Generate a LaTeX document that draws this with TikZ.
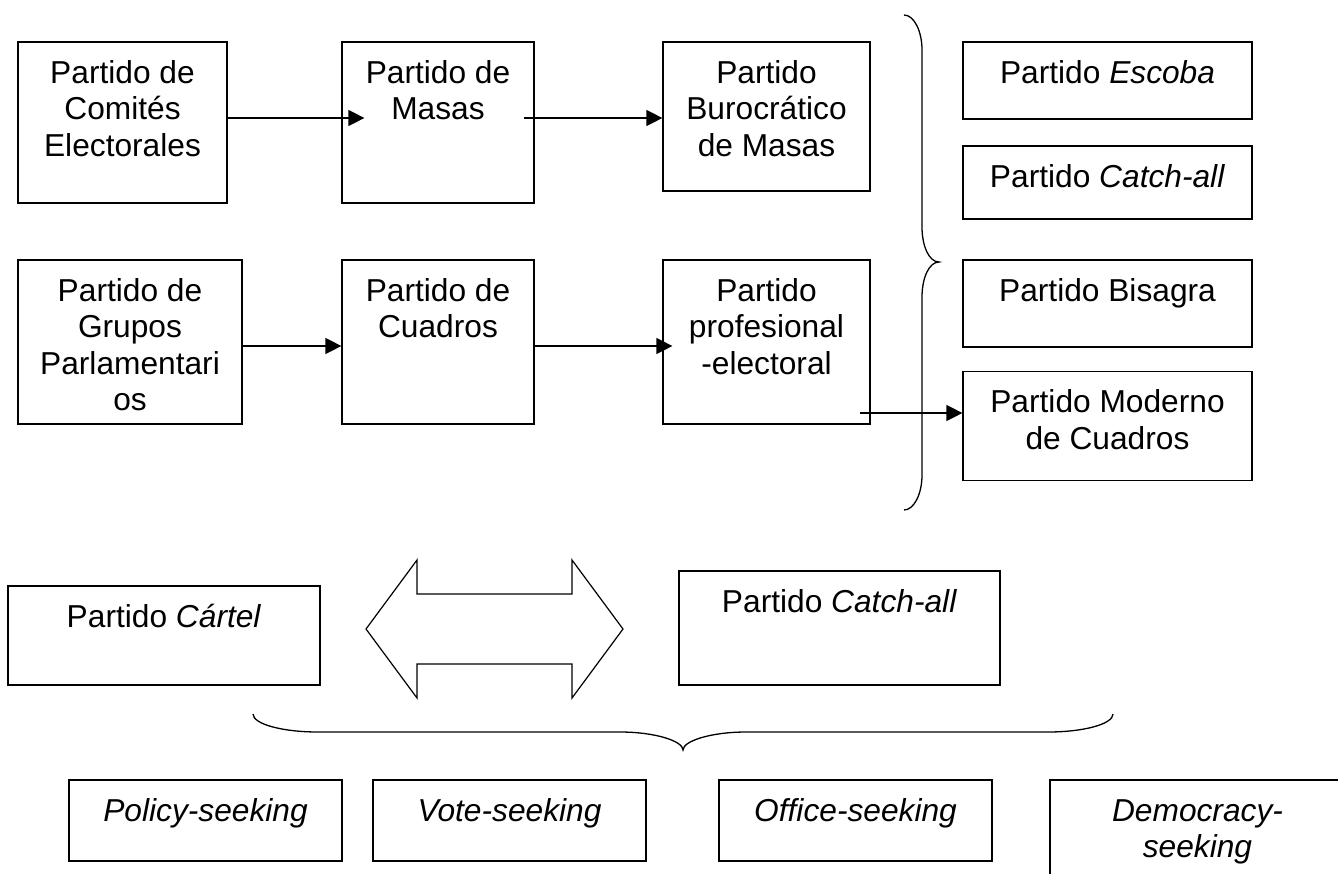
\documentclass[tikz,border=0pt]{standalone}
\usepackage{fontspec}
\setmainfont{Liberation Sans}
\usetikzlibrary{arrows.meta}
\newcommand{\celda}[3]{\parbox[t][#2][t]{#1}{\centering\vspace*{12pt}\rule{0pt}{29pt}#3}}

\begin{document}
\begin{tikzpicture}[
    x=1pt, y=-1pt,
    >={Triangle[length=16pt,width=16pt]},
    caja/.style={draw, line width=1.2pt, inner sep=0pt, font=\fontsize{31.7}{36.5}\selectfont},
    flecha/.style={->, line width=1.2pt},
    llave/.style={line width=1.3pt}
]
\useasboundingbox (0,0) rectangle (1338,873);
% evolucion de los partidos
\node[caja] (A) at (122.5,122.5) {\celda{209pt}{161pt}{Partido de\\Comités\\Electorales}};
\node[caja] (B) at (438,122.5) {\celda{192pt}{161pt}{Partido de\\Masas}};
\node[caja] (C) at (766.5,116.5) {\celda{207pt}{149pt}{Partido\\Burocrático\\de Masas}};
\node[caja] (D) at (130,342) {\celda{224pt}{164pt}{Partido de\\Grupos\\Parlamentari\\os}};
\node[caja] (E) at (438,342) {\celda{192pt}{164pt}{Partido de\\Cuadros}};
\node[caja] (F) at (766.5,342) {\celda{207pt}{164pt}{Partido\\profesional\\-electoral}};
\draw[flecha] ([yshift=4.5pt]A.east) -- ([xshift=23pt,yshift=4.5pt]B.west);
\draw[flecha] ([xshift=-11pt,yshift=4.5pt]B.east) -- ([yshift=-1.5pt]C.west);
\draw[flecha] ([yshift=-4pt]D.east) -- ([yshift=-4pt]E.west);
\draw[flecha] ([yshift=-4pt]E.east) -- ([xshift=10pt,yshift=-4pt]F.west);
% tipos actuales
\draw[llave] (904,15) .. controls (914,15) and (922,31) .. (922,50) -- (922,227)
    .. controls (922,246) and (929,262) .. (939,262) .. controls (929,262) and (922,278) .. (922,297)
    -- (922,475) .. controls (922,494) and (914,510) .. (904,510);
\node[caja] (G1) at (1107.5,80.5) {\celda{289pt}{77pt}{Partido \textit{Escoba}}};
\node[caja] (G2) at (1107.5,182.5) {\celda{289pt}{73pt}{Partido \textit{Catch-all}}};
\node[caja] (G3) at (1107.5,303.5) {\celda{289pt}{87pt}{Partido Bisagra}};
\node[caja] (G4) at (1107.5,426) {\celda{289pt}{109pt}{Partido Moderno\\de Cuadros}};
\draw[flecha] ([xshift=-11pt,yshift=-71pt]F.east) -- ([yshift=13pt]G4.west);
% cartel y catch-all
\node[caja] (cartel) at (164,635.5) {\celda{312pt}{99pt}{Partido \textit{Cártel}}};
\node[caja] (catch) at (839.5,628) {\celda{321pt}{114pt}{Partido \textit{Catch-all}}};
\draw[line width=1.2pt, line join=miter] (366,629) -- (417,560) -- (417,594) -- (572,594) -- (572,560) -- (623,629)
    -- (572,698) -- (572,664) -- (417,664) -- (417,698) -- cycle;
\draw[llave] (253,714) .. controls (253,724) and (282,732) .. (318,732) -- (620,732)
    .. controls (655,732) and (683,741) .. (683,750) .. controls (683,741) and (711,732) .. (746,732)
    -- (1048,732) .. controls (1084,732) and (1113,724) .. (1113,714);
% objetivos
\node[caja] (policy) at (205.5,820.5) {\celda{273pt}{81pt}{\textit{Policy-seeking}}};
\node[caja] (vote) at (509.5,820.5) {\celda{273pt}{81pt}{\textit{Vote-seeking}}};
\node[caja] (office) at (855.5,820.5) {\celda{273pt}{81pt}{\textit{Office-seeking}}};
\node[caja] (democ) at (1197.5,840) {\celda{295pt}{120pt}{\textit{Democracy-}\\\textit{seeking}}};
\end{tikzpicture}
\end{document}
